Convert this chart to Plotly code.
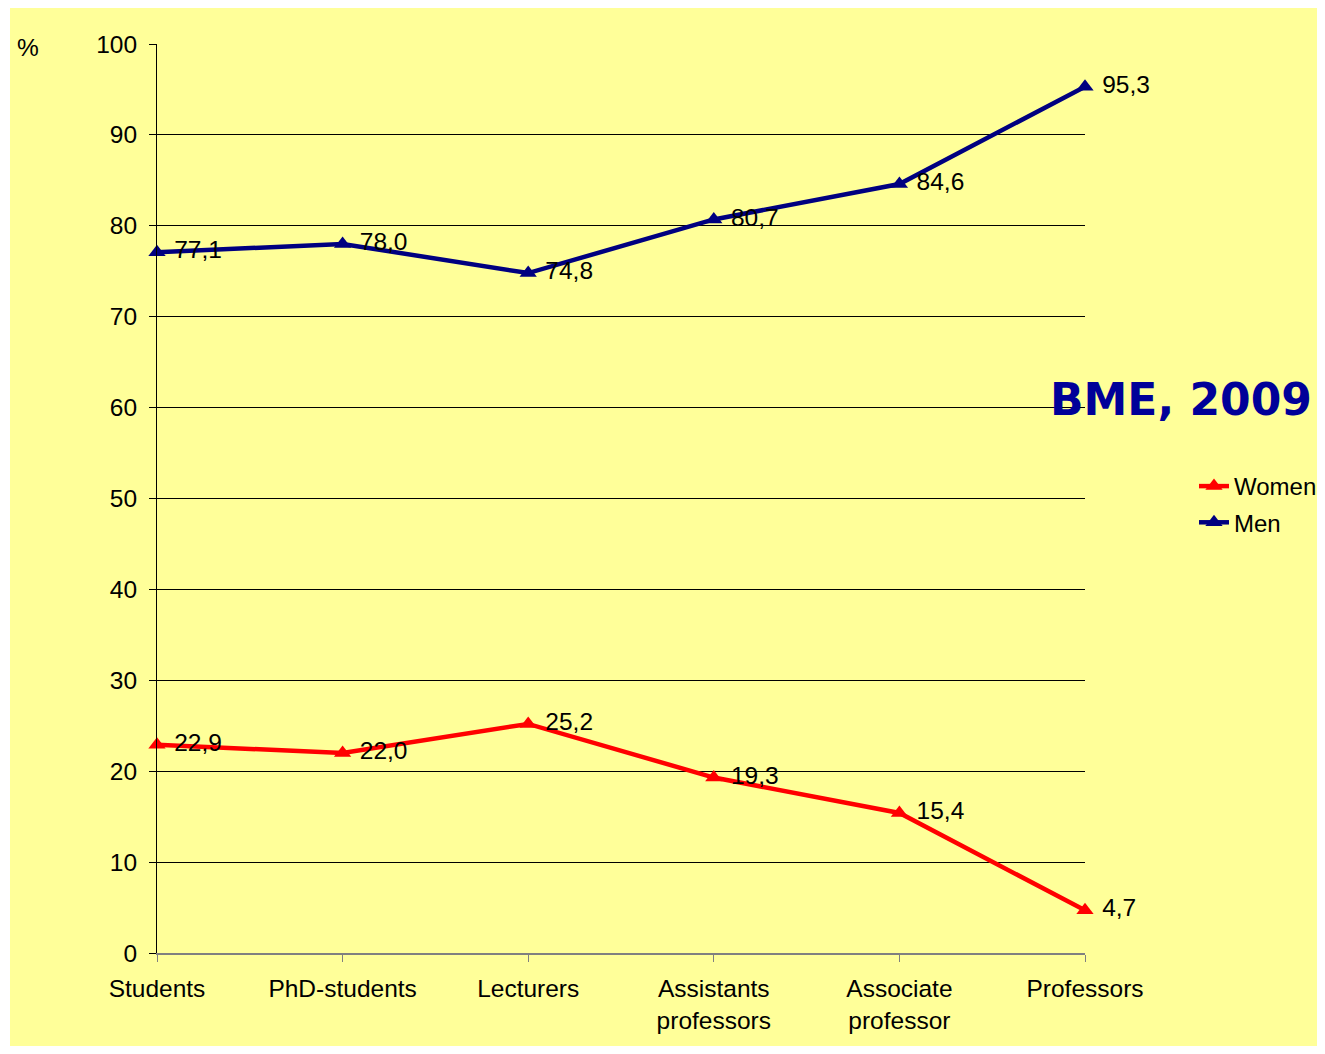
import plotly.graph_objects as go

categories = ["Students", "PhD-students", "Lecturers", "Assistants<br>professors", "Associate<br>professor", "Professors"]
women = [22.9, 22.0, 25.2, 19.3, 15.4, 4.7]
men = [77.1, 78.0, 74.8, 80.7, 84.6, 95.3]
y_ticks = [0, 10, 20, 30, 40, 50, 60, 70, 80, 90, 100]

OFF = 8  # page body margin
W, H = 1310, 1038
PLOT_L, PLOT_R, PLOT_T, PLOT_B = 157, 1085, 44, 953  # page pixels
L, T = PLOT_L - OFF, PLOT_T - OFF
R = W - (PLOT_R - OFF)
B = H - (PLOT_B - OFF)
PW, PH = W - L - R, H - T - B

def px_x(p):
    return (p - OFF - L) / PW

def px_y(p):
    return (H - B - (p - OFF)) / PH

FONT = "Liberation Sans, Arial, sans-serif"
FS = 24.5

def lab(vals):
    return ["\u00a0" + f"{v:.1f}".replace(".", ",") for v in vals]

fig = go.Figure()
fig.add_trace(go.Scatter(
    x=categories, y=women, name="Women", mode="lines+markers+text",
    line=dict(color="#FF0000", width=4.5),
    marker=dict(symbol="triangle-up", size=15, color="#FF0000"),
    text=lab(women), textposition="middle right",
    textfont=dict(family=FONT, size=FS, color="black"),
    legendgroup="w", cliponaxis=False,
))
fig.add_trace(go.Scatter(
    x=categories, y=men, name="Men", mode="lines+markers+text",
    line=dict(color="#000080", width=4.5),
    marker=dict(symbol="triangle-up", size=15, color="#000080"),
    text=lab(men), textposition="middle right",
    textfont=dict(family=FONT, size=FS, color="black"),
    legendgroup="m", cliponaxis=False,
))

fig.update_layout(
    width=W, height=H,
    margin=dict(l=L, r=R, t=T, b=B, autoexpand=False),
    paper_bgcolor="white",
    plot_bgcolor="rgba(0,0,0,0)",
    font=dict(family=FONT, size=FS, color="black"),
    showlegend=True,
    legend=dict(
        x=px_x(1194), y=px_y(464), xanchor="left", yanchor="top",
        bgcolor="rgba(0,0,0,0)", font=dict(family=FONT, size=24),
        traceorder="grouped", tracegroupgap=2,
    ),
    shapes=[dict(
        type="rect", xref="paper", yref="paper", layer="below",
        x0=px_x(10), x1=px_x(1340), y0=px_y(1060), y1=px_y(6),
        fillcolor="#FFFF99", line=dict(width=0),
    )],
    annotations=[
        dict(text="%", xref="paper", yref="paper", x=px_x(28), y=px_y(47),
             showarrow=False, font=dict(family=FONT, size=FS), xanchor="center", yanchor="middle"),
        dict(text="<b>BME, 2009</b>", xref="paper", yref="paper", x=px_x(1181), y=px_y(399),
             showarrow=False, font=dict(family="DejaVu Sans, sans-serif", size=44, color="#000099"),
             xanchor="center", yanchor="middle"),
    ],
)

fig.update_xaxes(
    type="category", range=[0, 5], showgrid=False,
    showline=True, linecolor="#808080", linewidth=2,
    ticks="outside", ticklen=7, tickcolor="#808080", tickwidth=1,
    ticklabelstandoff=6, tickfont=dict(family=FONT, size=FS),
    zeroline=False,
)
fig.update_yaxes(
    range=[0, 100], tickvals=y_ticks,
    showgrid=True, gridcolor="black", gridwidth=1,
    showline=True, linecolor="black", linewidth=1,
    ticks="outside", ticklen=7, tickcolor="black",
    ticklabelstandoff=7, tickfont=dict(family=FONT, size=FS),
    zeroline=False,
)

fig.write_html("out.html")
